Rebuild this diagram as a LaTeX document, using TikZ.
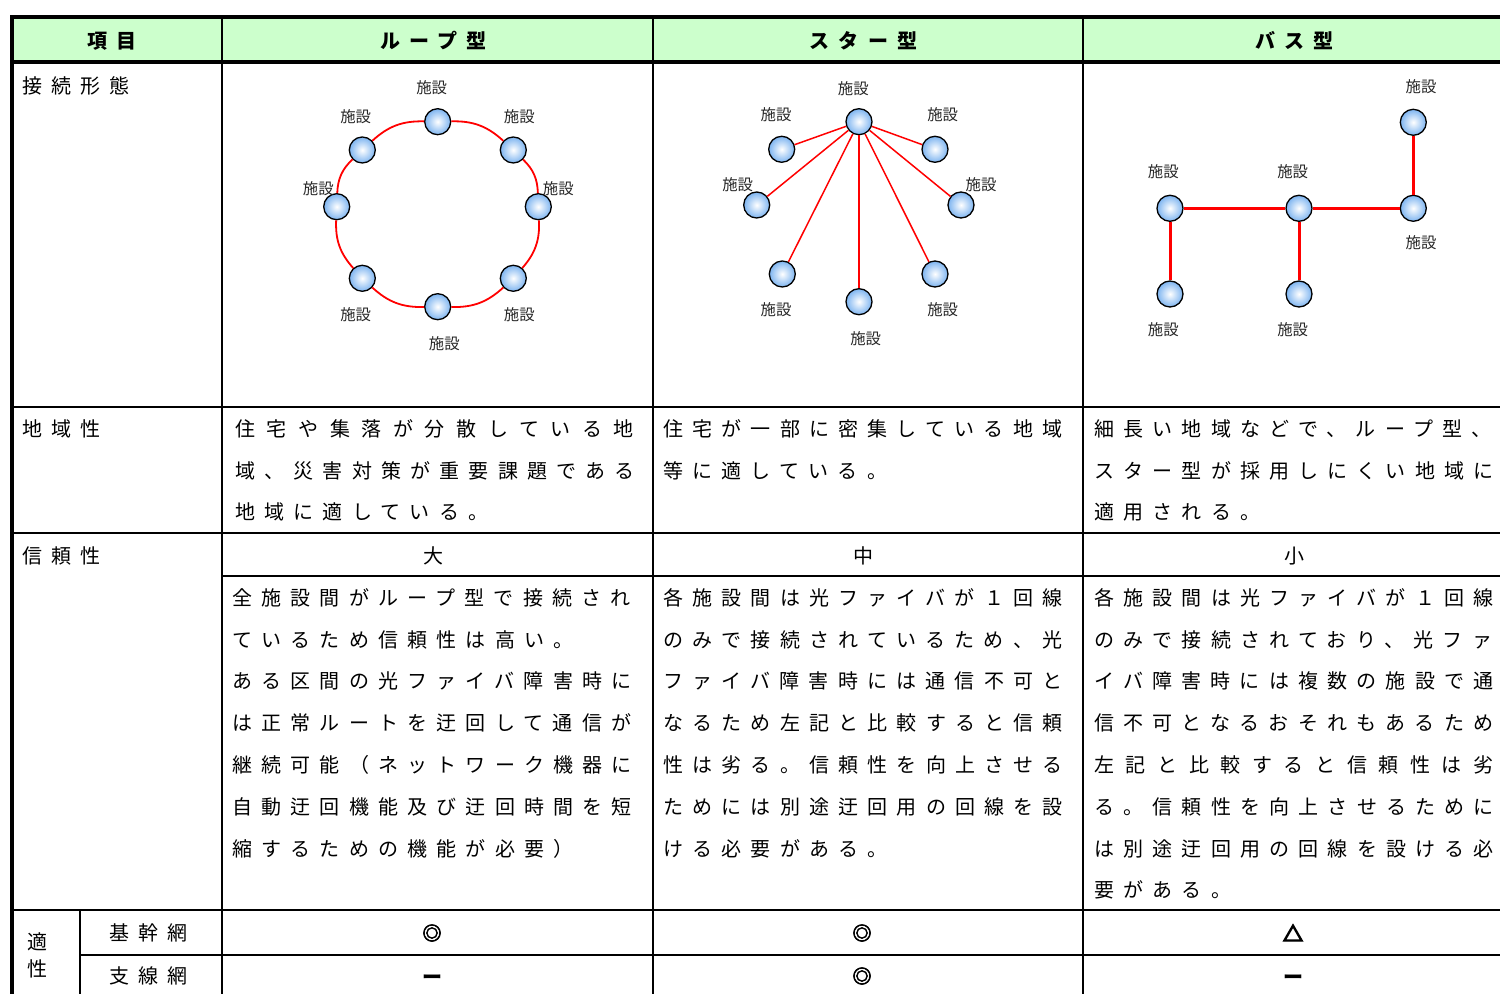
\documentclass[tikz,border=0pt]{standalone}
\usepackage{fontspec}
\setmainfont{Noto Sans CJK JP}
\newfontfamily\jp{Noto Sans CJK JP}[LetterSpace=46]
\newcommand{\spread}[1]{{\addfontfeature{LetterSpace=58}#1}}
\newcommand{\heavy}[2][0.7]{\special{pdf:literal direct 2 Tr #1 w}#2\special{pdf:literal direct 0 Tr}}
\usetikzlibrary{positioning}
\definecolor{headgreen}{RGB}{204,255,204}
\definecolor{siteblue}{RGB}{125,180,240}

\begin{document}
\begin{tikzpicture}[x=0.5pt, y=-0.5pt, every node/.style={inner sep=0pt}]
		\tikzstyle{site}=[circle, draw=black, line width=0.65pt, minimum size=13pt, inner color=white, outer color=siteblue]
		\tikzstyle{lbl}=[font=\fontsize{7.7}{8}\selectfont, text=black!85]
		\tikzstyle{cell}=[anchor=north west, align=left, font=\jp\fontsize{10}{20.9}\selectfont]
		\tikzstyle{rowlbl}=[anchor=west, font=\jp\fontsize{10}{12}\selectfont]
		\tikzstyle{mid}=[xshift=0.8pt, font=\jp\fontsize{10}{12}\selectfont]
		\tikzstyle{head}=[xshift=0.8pt, font=\jp\bfseries\fontsize{10}{12}\selectfont]
		\tikzstyle{symb}=[font=\bfseries\fontsize{10}{12}\selectfont]
		\tikzstyle{dbl}=[font=\bfseries\fontsize{9.5}{10}\selectfont]
		\tikzstyle{thin}=[line width=1pt]
		\tikzstyle{thick}=[line width=1.8pt]
		\tikzstyle{link}=[red, line width=0.9pt]

		\useasboundingbox (0,0) rectangle (1500,994);

		\fill[headgreen] (12,17) rectangle (1500,62);
		\draw[thin] (222,17) -- (222,994) (653,17) -- (653,994) (1083,17) -- (1083,994) (80,910) -- (80,994);
		\draw[thin] (12,407) -- (1500,407) (12,533) -- (1500,533) (222,576) -- (1500,576)
		            (12,910) -- (1500,910) (80,955) -- (1500,955);
		\draw[thick] (12,994) -- (12,17) -- (1500,17) (12,62) -- (1500,62);

		\node[head] (h0) at (110,41)  {項目};
		\node[head] (h1) at (432,41)  {ループ型};
		\node[head] (h2) at (862,41)  {スター型};
		\node[head] (h3) at (1293,41) {バス型};

		\node[rowlbl] (r1) at (22,86)  {接続形態};
		\node[rowlbl] (r2) at (22,429) {地域性};
		\node[rowlbl] (r3) at (22,556) {信頼性};
		\node[cell, anchor=center, font=\jp\fontsize{10}{13.5}\selectfont] (r4) at (37,955) {適\\性};
		\node[mid] (r4a) at (147,933) {基幹網};
		\node[mid] (r4b) at (147,976) {支線網};

		\node[cell] (a1) at (235,419) {\spread{住宅や集落が分散している地}\\域、災害対策が重要課題である\\地域に適している。};
		\node[cell] (a2) at (663,419) {住宅が一部に密集している地域\\等に適している。};
		\node[cell] (a3) at (1094,419) {細長い地域などで、ループ型、\\スター型が採用しにくい地域に\\適用される。};

		\node[mid] (b1) at (432,556)  {大};
		\node[mid] (b2) at (862,556)  {中};
		\node[mid] (b3) at (1293,556) {小};

		\node[cell] (c1) at (232,588) {全施設間がループ型で接続され\\ているため信頼性は高い。\\ある区間の光ファイバ障害時に\\は正常ルートを迂回して通信が\\継続可能（ネットワーク機器に\\自動迂回機能及び迂回時間を短\\縮するための機能が必要）};
		\node[cell] (c2) at (663,588) {各施設間は光ファイバが１回線\\のみで接続されているため、光\\ファイバ障害時には通信不可と\\なるため左記と比較すると信頼\\性は劣る。信頼性を向上させる\\ためには別途迂回用の回線を設\\ける必要がある。};
		\node[cell] (c3) at (1094,588) {各施設間は光ファイバが１回線\\のみで接続されており、光ファ\\イバ障害時には複数の施設で通\\信不可となるおそれもあるため\\\spread{左記と比較すると信頼性は劣}\\る。信頼性を向上させるために\\は別途迂回用の回線を設ける必\\要がある。};

		\node[dbl]  (d1) at (432,933)  {\heavy[0.3]{◎}};
		\node[dbl]  (d2) at (862,933)  {\heavy[0.3]{◎}};
		\node[symb] (d3) at (1293,933) {\heavy{△}};
		\node[symb] (e1) at (432,980)  {ー};
		\node[dbl]  (e2) at (862,976)  {\heavy[0.3]{◎}};
		\node[symb] (e3) at (1293,980) {ー};

		\node[site] (lt)  at (437.7,121.7) {};
		\node[site] (lur) at (513.3,150)   {};
		\node[site] (lr)  at (538.3,206.7) {};
		\node[site] (llr) at (513.3,278.3) {};
		\node[site] (lb)  at (437.7,306.7) {};
		\node[site] (lll) at (362.3,278.3) {};
		\node[site] (ll)  at (336.7,206.7) {};
		\node[site] (lul) at (362.3,150)   {};

		\node[lbl] (lt-l)  at (431.7,87.3)  {施設};
		\node[lbl] (lur-l) at (519.3,116.7) {施設};
		\node[lbl] (lr-l)  at (558.3,188.3) {施設};
		\node[lbl] (llr-l) at (519.3,315)   {施設};
		\node[lbl] (lb-l)  at (444.3,343.3) {施設};
		\node[lbl] (lll-l) at (355.7,315)   {施設};
		\node[lbl] (ll-l)  at (318.3,188.3) {施設};
		\node[lbl] (lul-l) at (355.7,116.7) {施設};

		\path[link]
		(lt)  edge [bend left=22] (lur)
		(lur) edge [bend left=22] (lr)
		(lr)  edge [bend left=22] (llr)
		(llr) edge [bend left=22] (lb)
		(lb)  edge [bend left=22] (lll)
		(lll) edge [bend left=22] (ll)
		(ll)  edge [bend left=22] (lul)
		(lul) edge [bend left=22] (lt)
		;

		\node[site] (sh)  at (859,121.7)   {};
		\node[site] (sul) at (781.7,149.3) {};
		\node[site] (sur) at (935,149.3)   {};
		\node[site] (sl)  at (756.7,205)   {};
		\node[site] (sr)  at (961,205)     {};
		\node[site] (sll) at (782.3,274)   {};
		\node[site] (slr) at (935,274)     {};
		\node[site] (sb)  at (859,301.7)   {};

		\node[lbl] (sh-l)  at (853.3,88.3) {施設};
		\node[lbl] (sul-l) at (776,115)    {施設};
		\node[lbl] (sur-l) at (942.7,115)  {施設};
		\node[lbl] (sl-l)  at (737.7,185)  {施設};
		\node[lbl] (sr-l)  at (981,185)    {施設};
		\node[lbl] (sll-l) at (776,310)    {施設};
		\node[lbl] (slr-l) at (942.7,310)  {施設};
		\node[lbl] (sb-l)  at (865.7,338.3) {施設};

		\path[link, line width=0.75pt]
		(sh) edge (sul)
		(sh) edge (sur)
		(sh) edge (sl)
		(sh) edge (sr)
		(sh) edge (sll)
		(sh) edge (slr)
		(sh) edge (sb)
		;

		\node[site] (ba) at (1170,208.3)   {};
		\node[site] (bb) at (1299,208.3)   {};
		\node[site] (bc) at (1413.3,208.3) {};
		\node[site] (bt) at (1413.3,122.3) {};
		\node[site] (bd) at (1170,294)     {};
		\node[site] (be) at (1299,294)     {};

		\node[lbl] (bt-l) at (1421,86.7)    {施設};
		\node[lbl] (ba-l) at (1163.3,171.7) {施設};
		\node[lbl] (bb-l) at (1292.7,171.7) {施設};
		\node[lbl] (bc-l) at (1421,242.7)   {施設};
		\node[lbl] (bd-l) at (1163.3,329.3) {施設};
		\node[lbl] (be-l) at (1292.7,329.3) {施設};

		\path[link, line width=1.5pt]
		(ba) edge (bb)
		(bb) edge (bc)
		(bc) edge (bt)
		(ba) edge (bd)
		(bb) edge (be)
		;
\end{tikzpicture}
\end{document}
